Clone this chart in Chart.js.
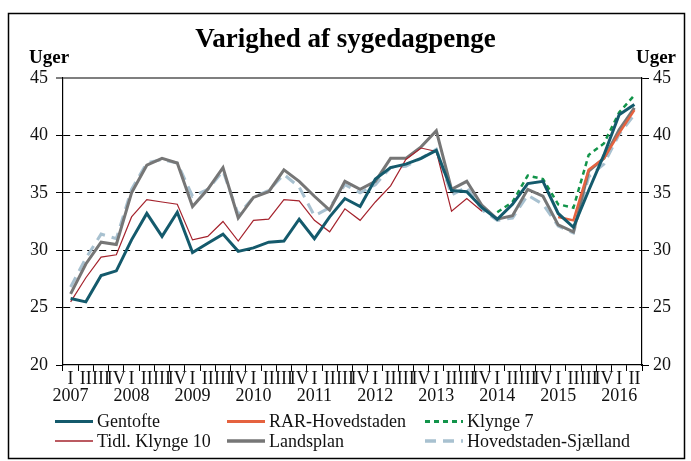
<!DOCTYPE html>
<html>
<head>
<meta charset="utf-8">
<title>Varighed af sygedagpenge</title>
<script src="https://cdn.jsdelivr.net/npm/chart.js@4.4.1/dist/chart.umd.min.js"></script>
<style>
    html, body { margin: 0; padding: 0; background: #fff; }
    #wrap { position: relative; width: 691px; height: 461px; }
</style>
</head>
<body>
<div id="wrap"><canvas id="sygedagpengeChart" width="691" height="461"></canvas></div>
<script>
// Kvartaler 2007K1 - 2016K2
const quarterLabels = [
    'I', 'II', 'III', 'IV', 'I', 'II', 'III', 'IV', 'I', 'II', 'III', 'IV',
    'I', 'II', 'III', 'IV', 'I', 'II', 'III', 'IV', 'I', 'II', 'III', 'IV',
    'I', 'II', 'III', 'IV', 'I', 'II', 'III', 'IV', 'I', 'II', 'III', 'IV',
    'I', 'II'
];
const yearLabels = [
    '2007', '', '', '', '2008', '', '', '', '2009', '', '', '',
    '2010', '', '', '', '2011', '', '', '', '2012', '', '', '',
    '2013', '', '', '', '2014', '', '', '', '2015', '', '', '',
    '2016', ''
];

// Uger (aflæst af figuren)
const gentofte = [
    25.8, 25.5, 27.8, 28.2, 30.9, 33.2, 31.2, 33.3, 29.8, 30.6, 31.4, 29.9,
    30.2, 30.7, 30.8, 32.7, 31.0, 32.9, 34.5, 33.8, 36.2, 37.2, 37.5, 38.0,
    38.7, 35.2, 35.1, 33.7, 32.7, 34.0, 35.8, 36.0, 33.2, 32.0, 35.2, 38.3,
    41.8, 42.7
];
const rarHovedstaden = [
    null, null, null, null, null, null, null, null, null, null, null, null,
    null, null, null, null, null, null, null, null, null, null, null, null,
    null, null, null, null, null, null, null, null, 32.9, 32.6, 37.0, 38.0,
    40.2, 42.2
];
const klynge7 = [
    null, null, null, null, null, null, null, null, null, null, null, null,
    null, null, null, null, null, null, null, null, null, null, null, null,
    null, null, null, null, 33.3, 34.2, 36.5, 36.2, 34.0, 33.7, 38.3, 39.3,
    42.0, 43.5
];
const tidlKlynge10 = [
    25.5, 27.6, 29.4, 29.6, 32.9, 34.4, 34.2, 34.0, 30.9, 31.2, 32.5, 30.8,
    32.6, 32.7, 34.4, 34.3, 32.6, 31.6, 33.6, 32.6, 34.2, 35.6, 37.9, 38.9,
    38.6, 33.4, 34.5, 33.4, null, null, null, null, null, null, null, null,
    null, null
];
const landsplan = [
    26.2, 28.8, 30.7, 30.5, 35.0, 37.4, 38.0, 37.6, 33.8, 35.3, 37.2, 32.8,
    34.6, 35.1, 37.0, 36.0, 34.7, 33.5, 36.0, 35.3, 36.0, 38.0, 38.0, 39.0,
    40.4, 35.3, 36.0, 33.9, 32.7, 33.0, 35.3, 34.7, 32.2, 31.6, 36.9, 38.0,
    40.5, 42.4
];
const hovedstadenSjaelland = [
    26.8, 29.3, 31.4, 31.0, 35.3, 37.6, 37.9, 37.6, 34.7, 35.3, 36.9, 33.1,
    34.6, 35.2, 36.6, 35.5, 33.0, 33.7, 35.7, 35.0, 35.7, 37.2, 37.3, 38.0,
    38.8, 34.8, 35.5, 33.5, 32.6, 32.8, 34.8, 34.0, 32.1, 31.5, 36.4, 37.5,
    40.1, 41.8
];

const yTicks = [20, 25, 30, 35, 40, 45];

const SERIF = "'Liberation Serif', 'Times New Roman', serif";
const TEXT = '#111111';

const labels = quarterLabels.map((q, i) => yearLabels[i] ? [q, yearLabels[i]] : q);

// Title, "Uger", frame and legend in three columns
const figureDecor = {
    id: 'figureDecor',
    beforeDraw(chart) {
        const ctx = chart.ctx;
        ctx.save();
        ctx.fillStyle = '#ffffff';
        ctx.fillRect(0, 0, chart.width, chart.height);
        ctx.restore();
    },
    afterDraw(chart) {
        const ctx = chart.ctx;
        const area = chart.chartArea;
        ctx.save();

        // frame
        ctx.strokeStyle = '#000';
        ctx.lineWidth = 1.5;
        ctx.strokeRect(8.5, 13.5, 676, 445);

        // title
        ctx.fillStyle = '#000';
        ctx.font = 'bold 27px ' + SERIF;
        ctx.textAlign = 'center';
        ctx.textBaseline = 'alphabetic';
        ctx.fillText('Varighed af sygedagpenge', chart.width / 2, 47);

        // unit labels
        ctx.font = 'bold 19px ' + SERIF;
        ctx.textAlign = 'left';
        ctx.fillText('Uger', 29, 63);
        ctx.textAlign = 'right';
        ctx.fillText('Uger', 676, 63);

        // legend
        const cols = [55, 227, 425];
        const rows = [421.5, 441];
        ctx.font = '18px ' + SERIF;
        ctx.textAlign = 'left';
        ctx.textBaseline = 'middle';
        chart.data.datasets.forEach((ds, k) => {
            const x = cols[k % 3];
            const y = rows[Math.floor(k / 3)];
            ctx.beginPath();
            ctx.strokeStyle = ds.borderColor;
            ctx.lineWidth = ds.legendWidth || ds.borderWidth;
            ctx.setLineDash(ds.borderDash || []);
            ctx.moveTo(x, y);
            ctx.lineTo(x + 38, y);
            ctx.stroke();
            ctx.setLineDash([]);
            ctx.fillStyle = TEXT;
            ctx.fillText(ds.label, x + 42, y + 1);
        });
        ctx.restore();
    }
};

function yGridColor(c) {
    if (!c.tick) return '#000';
    if (c.tick.value === 45) return '#7f7f7f';
    if (c.tick.value === 20) return 'rgba(0,0,0,0)';
    return '#000';
}

new Chart(document.getElementById('sygedagpengeChart'), {
    type: 'line',
    data: {
        labels: labels,
        datasets: [
            {
                label: 'Gentofte',
                data: gentofte,
                borderColor: '#145a6c',
                borderWidth: 3
            },
            {
                label: 'RAR-Hovedstaden',
                data: rarHovedstaden,
                borderColor: '#e5623f',
                borderWidth: 2.5,
                legendWidth: 3
            },
            {
                label: 'Klynge 7',
                data: klynge7,
                borderColor: '#12944a',
                borderWidth: 2.5,
                borderDash: [5, 4],
                legendWidth: 3
            },
            {
                label: 'Tidl. Klynge 10',
                data: tidlKlynge10,
                borderColor: '#a5232d',
                borderWidth: 1.2,
                legendWidth: 1.5
            },
            {
                label: 'Landsplan',
                data: landsplan,
                borderColor: '#767676',
                borderWidth: 3,
                legendWidth: 3.5
            },
            {
                label: 'Hovedstaden-Sjælland',
                data: hovedstadenSjaelland,
                borderColor: '#a8c1d0',
                borderWidth: 3,
                borderDash: [11, 7],
                legendWidth: 3.5
            }
        ]
    },
    options: {
        responsive: false,
        devicePixelRatio: 1,
        animation: false,
        events: [],
        spanGaps: false,
        elements: {
            point: { radius: 0 },
            line: { tension: 0, fill: false, borderCapStyle: 'butt', borderJoinStyle: 'miter' }
        },
        layout: { padding: { top: 78, left: 0, right: 0, bottom: 0 } },
        plugins: {
            legend: { display: false },
            title: { display: false },
            tooltip: { enabled: false }
        },
        scales: {
            x: {
                type: 'category',
                offset: true,
                grid: {
                    display: true,
                    offset: true,
                    drawOnChartArea: false,
                    drawTicks: true,
                    tickLength: 6,
                    tickColor: '#000',
                    tickWidth: 1
                },
                border: { display: true, color: '#000', width: 1.2 },
                ticks: {
                    autoSkip: false,
                    maxRotation: 0,
                    minRotation: 0,
                    padding: 0,
                    color: TEXT,
                    font: { family: SERIF, size: 18, lineHeight: 0.95 }
                },
                afterFit: function(scale) { scale.height = 96; }
            },
            y: {
                position: 'left',
                min: 20,
                max: 45,
                afterBuildTicks: function(scale) {
                    scale.ticks = yTicks.map(v => ({ value: v }));
                },
                grid: {
                    color: yGridColor,
                    lineWidth: c => (c.tick && c.tick.value === 45) ? 2 : 1,
                    drawTicks: true,
                    tickLength: 7,
                    tickColor: '#000',
                    tickWidth: 1,
                    tickBorderDash: []
                },
                border: {
                    display: true,
                    color: '#000',
                    width: 1.2,
                    dash: c => (c.tick && c.tick.value === 45) ? [] : [7, 5]
                },
                ticks: {
                    padding: 8,
                    color: TEXT,
                    font: { family: SERIF, size: 18 }
                },
                afterFit: function(scale) { scale.width = 63; }
            },
            yRight: {
                position: 'right',
                min: 20,
                max: 45,
                afterBuildTicks: function(scale) {
                    scale.ticks = yTicks.map(v => ({ value: v }));
                },
                grid: {
                    drawOnChartArea: false,
                    drawTicks: true,
                    tickLength: 7,
                    tickColor: '#000',
                    tickWidth: 1
                },
                border: { display: true, color: '#000', width: 1.2 },
                ticks: {
                    padding: 4,
                    color: TEXT,
                    font: { family: SERIF, size: 18 }
                },
                afterFit: function(scale) { scale.width = 49; }
            }
        }
    },
    plugins: [figureDecor]
});
</script>
</body>
</html>
